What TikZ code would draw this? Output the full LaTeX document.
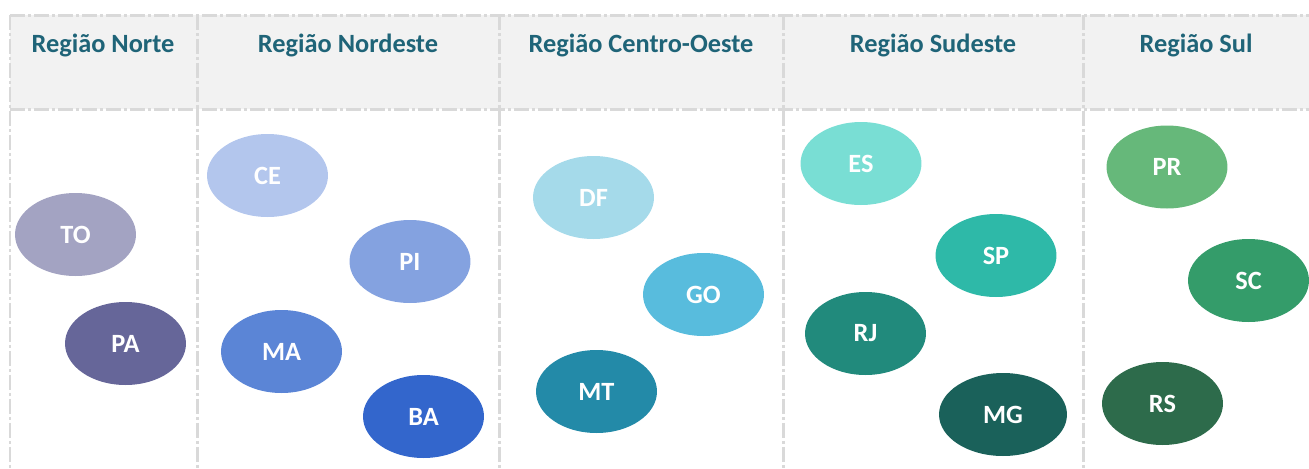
\documentclass[tikz,border=0pt]{standalone}
\usepackage{fontspec}
\setmainfont{Carlito}
\usepackage{tikz}
\usetikzlibrary{shapes.geometric}

\definecolor{titulo}{HTML}{1F6478}
\definecolor{grade}{HTML}{D9D9D9}
\definecolor{fundo}{HTML}{F2F2F2}
\definecolor{cTO}{HTML}{A3A3C2}
\definecolor{cPA}{HTML}{666699}
\definecolor{cCE}{HTML}{B3C6ED}
\definecolor{cPI}{HTML}{84A2E0}
\definecolor{cMA}{HTML}{5B85D6}
\definecolor{cBA}{HTML}{3366CC}
\definecolor{cDF}{HTML}{A5DAEA}
\definecolor{cGO}{HTML}{58BCDD}
\definecolor{cMT}{HTML}{238AA8}
\definecolor{cES}{HTML}{79DED4}
\definecolor{cSP}{HTML}{2EB9A8}
\definecolor{cRJ}{HTML}{218A7C}
\definecolor{cMG}{HTML}{1A615A}
\definecolor{cPR}{HTML}{66B87A}
\definecolor{cSC}{HTML}{349C6A}
\definecolor{cRS}{HTML}{2D6B4B}

\begin{document}
\begin{tikzpicture}
		[x=0.02cm,y=-0.02cm,
		 reg/.style= {font=\bfseries\fontsize{15}{18}\selectfont,text=titulo},
		 uf/.style= {ellipse,inner sep=0pt,minimum width=2.42cm,minimum height=1.66cm,
		 	font=\bfseries\fontsize{15}{18}\selectfont,text=white},
		 grid/.style= {draw=grade,line width=0.06cm,
		 	dash pattern=on 0.3cm off 0.06cm on 0.06cm off 0.06cm}]

		\useasboundingbox (0,0) rectangle (1309,468);

		% cabecalho
		\fill[fundo] (10,15) rectangle (1309,109);
		\draw[grid] (10,15) -- (1309,15);
		\draw[grid] (10,109) -- (1309,109);
		\draw[grid] (10,15) -- (10,468);
		\draw[grid] (197,15) -- (197,468);
		\draw[grid] (499,15) -- (499,468);
		\draw[grid] (783,15) -- (783,468);
		\draw[grid] (1083,15) -- (1083,468);

		\node[reg] (norte) at (103,45) {Região Norte}
		;
		\node[reg] (nordeste) at (348,45) {Região Nordeste}
		;
		\node[reg] (centro) at (641,45) {Região Centro-Oeste}
		;
		\node[reg] (sudeste) at (933,45) {Região Sudeste}
		;
		\node[reg] (sul) at (1196,45) {Região Sul}
		;

		% Norte
		\node[uf,fill=cTO] (to) at (75.5,234.5) {TO}
		;
		\node[uf,fill=cPA] (pa) at (125.5,343.5) {PA}
		;

		% Nordeste
		\node[uf,fill=cCE] (ce) at (267.5,175.5) {CE}
		;
		\node[uf,fill=cPI] (pi) at (410,261.5) {PI}
		;
		\node[uf,fill=cMA] (ma) at (281.5,351.5) {MA}
		;
		\node[uf,fill=cBA] (ba) at (423.5,416.5) {BA}
		;

		% Centro-Oeste
		\node[uf,fill=cDF] (df) at (593.5,197.5) {DF}
		;
		\node[uf,fill=cGO] (go) at (703.5,294.5) {GO}
		;
		\node[uf,fill=cMT] (mt) at (596.5,391.5) {MT}
		;

		% Sudeste
		\node[uf,fill=cES] (es) at (861,163.5) {ES}
		;
		\node[uf,fill=cSP] (sp) at (996,255.5) {SP}
		;
		\node[uf,fill=cRJ] (rj) at (865.5,333.5) {RJ}
		;
		\node[uf,fill=cMG,minimum width=2.56cm] (mg) at (1003,414.5) {MG}
		;

		% Sul
		\node[uf,fill=cPR] (pr) at (1167,167) {PR}
		;
		\node[uf,fill=cSC] (sc) at (1248.5,280.5) {SC}
		;
		\node[uf,fill=cRS] (rs) at (1162.5,403.5) {RS}
		;

	\end{tikzpicture}
\end{document}
